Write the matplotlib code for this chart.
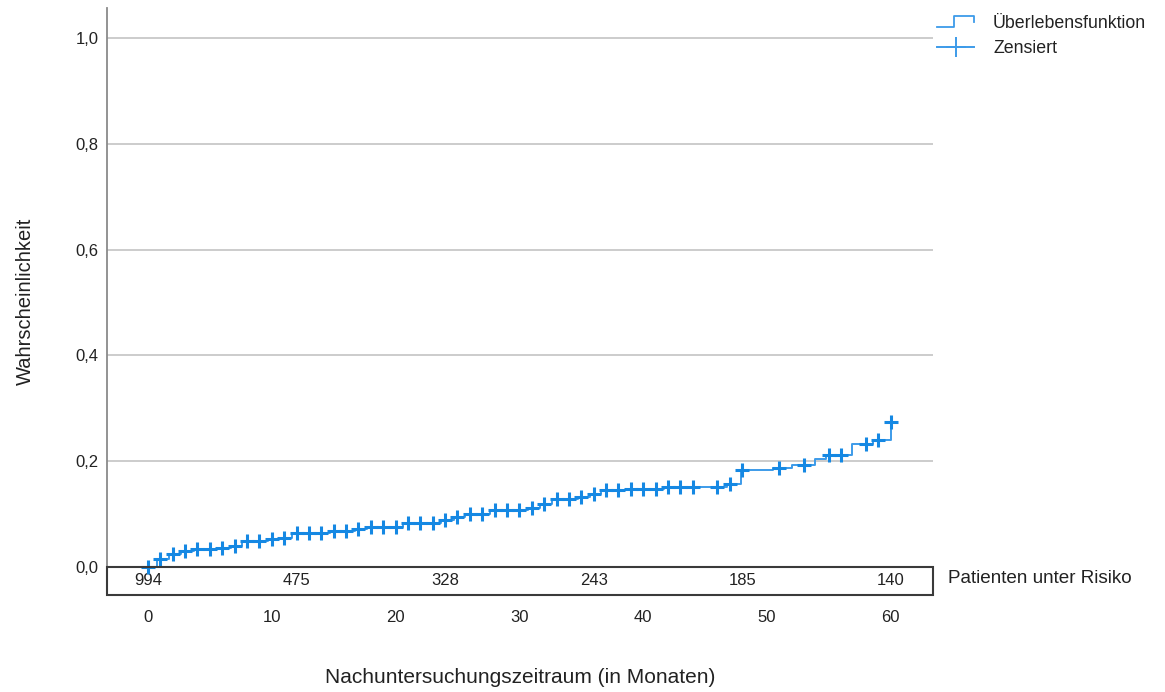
import matplotlib.pyplot as plt
import numpy as np
from matplotlib.lines import Line2D
from matplotlib.patches import Rectangle
from matplotlib.legend_handler import HandlerBase
from matplotlib.transforms import blended_transform_factory

plt.rcParams['font.family'] = ['Liberation Sans', 'DejaVu Sans']

# Zeitpunkte der Ereignisse (Monate) und kumulative Wahrscheinlichkeit danach
event_t = [0, 0.7, 1.7, 2.7, 3.7, 5.7, 6.7, 7.6, 9.7, 10.7, 11.6, 14.7, 16.7,
           17.7, 20.6, 23.7, 24.7, 25.6, 27.6, 30.7, 31.7, 32.6, 34.7, 35.7,
           36.6, 38.7, 41.7, 46.8, 47.9, 50.5, 52.0, 53.9, 54.8, 56.9, 58.6, 60.0]
cum_inc = [0.0, 0.015, 0.025, 0.030, 0.034, 0.036, 0.040, 0.049, 0.053, 0.055,
           0.064, 0.068, 0.071, 0.075, 0.083, 0.089, 0.094, 0.100, 0.108, 0.112,
           0.120, 0.129, 0.132, 0.138, 0.146, 0.147, 0.151, 0.157, 0.183, 0.187,
           0.193, 0.204, 0.211, 0.233, 0.240, 0.274]

# zensierte Faelle
censor_t = list(range(0, 45)) + [46, 47, 48, 51, 53, 55, 56, 58, 59, 60]

# Patienten unter Risiko
risk_t = [0, 12, 24, 36, 48, 60]
risk_n = [994, 475, 328, 243, 185, 140]

yticks = [0.0, 0.2, 0.4, 0.6, 0.8, 1.0]
xticks = [0, 10, 20, 30, 40, 50, 60]

line_col = '#3d9be9'
mark_col = '#1588e3'
text_col = '#222222'


class StepHandler(HandlerBase):
    def create_artists(self, legend, orig_handle, xd, yd, w, h, fontsize, trans):
        xs = [xd, xd + 0.45 * w, xd + 0.45 * w, xd + w, xd + w]
        ys = [yd + 0.1 * h, yd + 0.1 * h, yd + 0.95 * h, yd + 0.95 * h, yd + 0.45 * h]
        ln = Line2D(xs, ys, color=line_col, lw=1.3, transform=trans)
        return [ln]


fig = plt.figure(figsize=(11.65, 6.92), dpi=100)
ax = fig.add_axes([107 / 1165, 1 - 595 / 692, (933 - 107) / 1165, (595 - 8) / 692])
xa_yd = blended_transform_factory(ax.transAxes, ax.transData)

# Stufenfunktion
ax.step(event_t, cum_inc, where='post', color=line_col, lw=1.4, zorder=3)

# Zensierungsmarken auf der Kurve
idx = np.searchsorted(event_t, censor_t, side='right') - 1
censor_y = np.array(cum_inc)[idx]
ax.plot(censor_t, censor_y, ls='none', marker='+', ms=9.5, mew=2.2,
        color=mark_col, zorder=4)

ax.set_xlim(-3.31, 63.41)
ax.set_ylim(-0.053, 1.057)

for yv in yticks[1:]:
    ax.axhline(yv, color='#c8c8c8', lw=1.3, zorder=1)

# Kasten fuer die Risikotabelle
ax.add_patch(Rectangle((0, -0.053), 1, 0.053, transform=xa_yd,
                       fill=False, edgecolor='#3a3a3a', lw=1.5, clip_on=False, zorder=5))
for t, n in zip(risk_t, risk_n):
    ax.text(t, -0.025, str(n), ha='center', va='center', fontsize=12, color=text_col)
ax.text(1.018, -0.0215, 'Patienten unter Risiko', transform=xa_yd,
        ha='left', va='center', fontsize=13.6, color=text_col)

for s in ['top', 'right', 'bottom']:
    ax.spines[s].set_visible(False)
ax.spines['left'].set_color('#8a8a8a')
ax.spines['left'].set_linewidth(1.3)

ax.set_yticks(yticks)
ax.set_yticklabels([f'{v:.1f}'.replace('.', ',') for v in yticks], fontsize=12, color=text_col)
ax.set_xticks(xticks)
ax.set_xticklabels([str(v) for v in xticks], fontsize=12, color=text_col)
ax.tick_params(axis='both', length=0)
ax.tick_params(axis='x', pad=11)
ax.tick_params(axis='y', pad=6)

ax.set_xlabel('Nachuntersuchungszeitraum (in Monaten)', fontsize=15, color=text_col, labelpad=31)
ax.set_ylabel('Wahrscheinlichkeit', fontsize=14.5, color=text_col, labelpad=29)

h_step = Line2D([], [], color=line_col)
h_cens = Line2D([], [], color=line_col, marker='+', ms=15, mew=1.4, lw=1.4)
fig.legend([h_step, h_cens], ['Überlebensfunktion', 'Zensiert'],
           handler_map={h_step: StepHandler()},
           loc='upper left', bbox_to_anchor=(921 / 1165, 1 + 1 / 692),
           frameon=False, fontsize=12.8, handlelength=2.1, handletextpad=1.05,
           labelspacing=0.45, labelcolor=text_col)

fig.savefig('out.png', dpi=100)
